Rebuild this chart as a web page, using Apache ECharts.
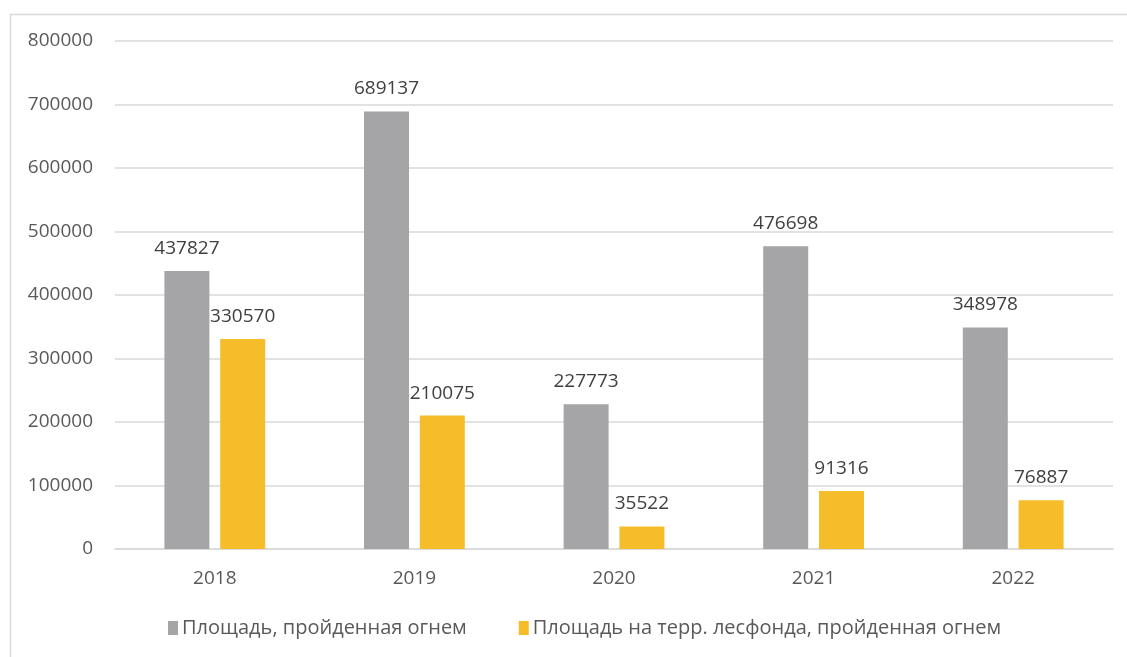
<!DOCTYPE html>
<html>
<head>
<meta charset="utf-8">
<script src="https://cdn.jsdelivr.net/npm/echarts@6/dist/echarts.min.js"></script>
<style>
  html, body { margin: 0; padding: 0; background: #fff; }
  #chart { width: 1127px; height: 657px; }
</style>
</head>
<body>
<div id="chart"></div>
<script>
// данные
var years = ['2018', '2019', '2020', '2021', '2022'];
var burnedTotal = [437827, 689137, 227773, 476698, 348978];
var burnedForest = [330570, 210075, 35522, 91316, 76887];
var seriesNames = ['Площадь, пройденная огнем', 'Площадь на терр. лесфонда, пройденная огнем'];

(function () {
  var myChart = echarts.init(document.getElementById('chart'));

  var labelStyle = {
    show: true,
    position: 'top',
    distance: 13,
    color: '#404040',
    fontSize: 19,
    fontFamily: 'Open Sans'
  };

  var option = {
    animation: false,
    textStyle: { fontFamily: 'Open Sans' },
    // рамка вокруг диаграммы
    graphic: [{
      type: 'rect',
      shape: { x: 10.5, y: 14.5, width: 1200, height: 700 },
      style: { fill: 'none', stroke: '#d9d9d9', lineWidth: 1.5 },
      silent: true
    }],
    grid: {
      left: 115,
      right: 14,
      top: 41,
      bottom: 108
    },
    legend: {
      bottom: 14,
      left: 163,
      itemWidth: 10,
      itemHeight: 14,
      itemGap: 52,
      icon: 'rect',
      textStyle: { color: '#595959', fontSize: 20, padding: [0, 0, 0, -1] },
      data: seriesNames
    },
    xAxis: {
      type: 'category',
      data: years,
      axisTick: { show: false },
      axisLine: { lineStyle: { color: '#d9d9d9', width: 1.5 } },
      axisLabel: { color: '#595959', fontSize: 19, margin: 20 }
    },
    yAxis: {
      type: 'value',
      min: 0,
      max: 800000,
      interval: 100000,
      axisLine: { show: false },
      axisTick: { show: false },
      axisLabel: {
        color: '#595959',
        fontSize: 19,
        margin: 22,
        formatter: function (v) { return String(v); }
      },
      splitLine: { lineStyle: { color: '#d9d9d9', width: 1.5 } }
    },
    series: [{
      name: seriesNames[0],
      type: 'bar',
      data: burnedTotal,
      barWidth: 45,
      barGap: '24%',
      itemStyle: { color: '#a5a5a7' },
      label: labelStyle
    }, {
      name: seriesNames[1],
      type: 'bar',
      data: burnedForest,
      barWidth: 45,
      itemStyle: { color: '#f5bd2a' },
      label: labelStyle
    }]
  };

  myChart.setOption(option);
  window.addEventListener('resize', function () {
    myChart.resize();
  });
})();
</script>
</body>
</html>
